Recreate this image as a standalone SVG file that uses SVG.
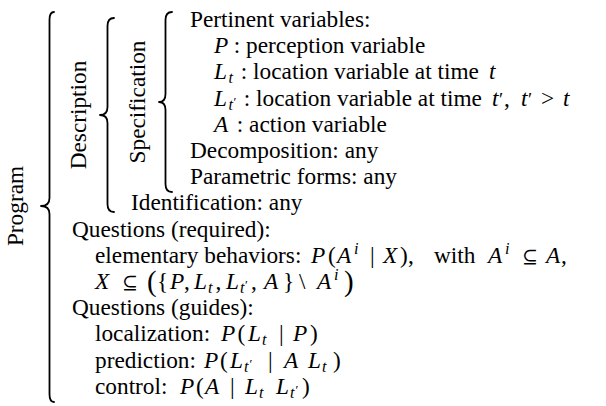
<svg xmlns="http://www.w3.org/2000/svg" width="606" height="406" viewBox="0 0 606 406">
<style>
text{font-family:"Liberation Serif","Times New Roman","DejaVu Serif",serif;font-size:23.3px;fill:#000}
.m{font-style:italic}
.s{font-style:italic;font-size:16.3px}
.p1{font-size:19px}
.p2{font-size:13px}
.sy{font-family:"DejaVu Serif","Liberation Serif",serif;font-size:19px}
.big{font-size:29px}
.br{fill:none;stroke:#000;stroke-width:1.8;stroke-linecap:round;stroke-linejoin:round}
</style>
<rect width="606" height="406" fill="#fff"/>
<g id="connectors">
<path class="br" d="M54,12 Q49.5,12 49.5,20 L49.5,198 Q49.5,206 41,206 Q49.5,206 49.5,214 L49.5,394 Q49.5,402 54,402"/>
<path class="br" d="M114,18 Q107.5,18 107.5,26 L107.5,107 Q107.5,115 100,115 Q107.5,115 107.5,123 L107.5,204 Q107.5,212 114,212"/>
<path class="br" d="M172,12 Q165.5,12 165.5,20 L165.5,94 Q165.5,102 159,102 Q165.5,102 165.5,110 L165.5,184 Q165.5,192 172,192"/>
</g>
<g id="program"><text transform="translate(23,206) rotate(-90)" text-anchor="middle">Program</text></g>
<g id="description"><text transform="translate(86,115) rotate(-90)" text-anchor="middle">Description</text></g>
<g id="specification"><text transform="translate(145,102) rotate(-90)" text-anchor="middle">Specification</text></g>
<g id="spec-content">
<text x="190" y="27">Pertinent variables:</text>
<text y="53.2"><tspan class="m" x="214">P</tspan><tspan x="228"> : perception variable</tspan></text>
<text y="79.4"><tspan class="m" x="214">L</tspan><tspan class="s" x="228.5" y="83.4">t</tspan><tspan x="235" y="79.4"> : location variable at time </tspan><tspan class="m" x="489">t</tspan></text>
<text y="105.6"><tspan class="m" x="214">L</tspan><tspan class="s" x="228.5" y="109.6">t</tspan><tspan class="p2" x="233.5" y="106">′</tspan><tspan x="238" y="105.6"> : location variable at time </tspan><tspan class="m" x="492">t</tspan><tspan class="p1" x="499">′</tspan><tspan x="504">,</tspan><tspan class="m" x="521">t</tspan><tspan class="p1" x="528">′</tspan><tspan x="541">&gt;</tspan><tspan class="m" x="563">t</tspan></text>
<text y="131.8"><tspan class="m" x="214">A</tspan><tspan x="231"> : action variable</tspan></text>
<text x="190" y="158">Decomposition: any</text>
<text x="190" y="184.2">Parametric forms: any</text>
</g>
<g id="identification"><text x="131" y="210.4">Identification: any</text></g>
<g id="questions">
<text x="72" y="236.6">Questions (required):</text>
<text y="262.8"><tspan x="95">elementary behaviors:</tspan><tspan class="m" x="311">P</tspan><tspan x="328">(</tspan><tspan class="m" x="337">A</tspan><tspan class="s" x="354" y="253.8">i</tspan><tspan x="370" y="262.8">|</tspan><tspan class="m" x="383">X</tspan><tspan x="400">)</tspan><tspan x="408">,</tspan><tspan x="434">with</tspan><tspan class="m" x="488">A</tspan><tspan class="s" x="505" y="253.8">i</tspan><tspan class="sy" x="522" y="262.8">⊆</tspan><tspan class="m" x="546">A</tspan><tspan x="561">,</tspan></text>
<text y="289"><tspan class="m" x="95">X</tspan><tspan class="sy" x="122">⊆</tspan><tspan class="big" x="147" y="290.5">(</tspan><tspan x="157" y="289">{</tspan><tspan class="m" x="170">P</tspan><tspan x="184">,</tspan><tspan class="m" x="194">L</tspan><tspan class="s" x="208" y="293">t</tspan><tspan x="215.5" y="289">,</tspan><tspan class="m" x="226">L</tspan><tspan class="s" x="240" y="293">t</tspan><tspan class="p2" x="245" y="289.4">′</tspan><tspan x="251" y="289">,</tspan><tspan class="m" x="264">A</tspan><tspan x="283">}</tspan><tspan x="299">\</tspan><tspan class="m" x="317">A</tspan><tspan class="s" x="334" y="280">i</tspan><tspan class="big" x="344" y="290.5">)</tspan></text>
<text x="72" y="315.2">Questions (guides):</text>
<text y="341.4"><tspan x="95">localization:</tspan><tspan class="m" x="221">P</tspan><tspan x="237.5">(</tspan><tspan class="m" x="248">L</tspan><tspan class="s" x="262" y="345.4">t</tspan><tspan x="279" y="341.4">|</tspan><tspan class="m" x="293">P</tspan><tspan x="310">)</tspan></text>
<text y="367.6"><tspan x="95">prediction:</tspan><tspan class="m" x="204">P</tspan><tspan x="220">(</tspan><tspan class="m" x="230">L</tspan><tspan class="s" x="244" y="371.6">t</tspan><tspan class="p2" x="249.5" y="368">′</tspan><tspan x="268" y="367.6">|</tspan><tspan class="m" x="284">A</tspan><tspan class="m" x="308">L</tspan><tspan class="s" x="322" y="371.6">t</tspan><tspan x="333" y="367.6">)</tspan></text>
<text y="393.8"><tspan x="95">control:</tspan><tspan class="m" x="180">P</tspan><tspan x="196">(</tspan><tspan class="m" x="205">A</tspan><tspan x="230">|</tspan><tspan class="m" x="245">L</tspan><tspan class="s" x="259" y="397.8">t</tspan><tspan class="m" x="276" y="393.8">L</tspan><tspan class="s" x="290" y="397.8">t</tspan><tspan class="p2" x="295.5" y="394.2">′</tspan><tspan x="302" y="393.8">)</tspan></text>
</g>
</svg>
